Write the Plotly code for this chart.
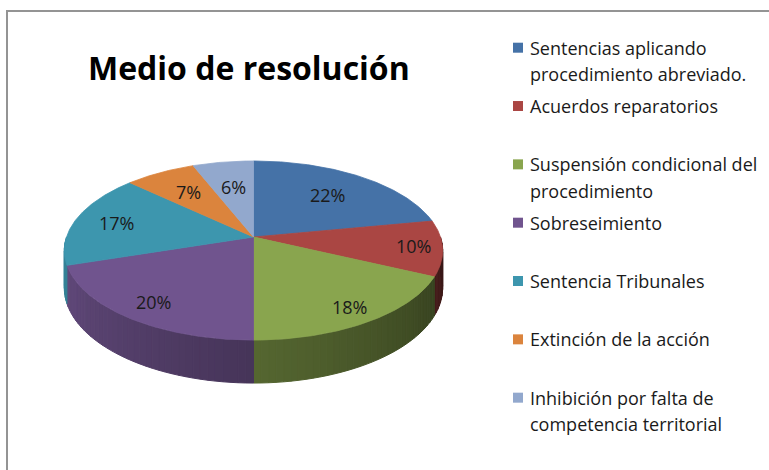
import textwrap
import numpy as np
import plotly.graph_objects as go

# ---------------- data ----------------
title_text = "Medio de resolución"
categories = [
    "Sentencias aplicando procedimiento abreviado.",
    "Acuerdos reparatorios",
    "Suspensión condicional del procedimiento",
    "Sobreseimiento",
    "Sentencia Tribunales",
    "Extinción de la acción",
    "Inhibición por falta de competencia territorial",
]
values = [22, 10, 18, 20, 17, 7, 6]

# ---------------- style ----------------
slice_colors = ["#4572A7", "#AA4643", "#89A54E", "#70548E", "#3D96AE", "#DB843D", "#92A8CD"]
label_radius = [0.67, 0.85, 0.85, 0.82, 0.77, 0.67, 0.63]

W, H = 769, 470
CX, CY = 253.5, 237.0      # pie centre (pixels)
A, B = 187.0, 87.5         # ellipse semi-axes
K = 0.151                  # perspective strength
DEPTH = 36.5               # pie thickness at the centre line
FONT = "Open Sans"


def proj(theta_deg, r=1.0):
    t = np.radians(theta_deg)
    u = r * np.cos(t)
    v = r * np.sin(t)
    s = 1.0 / (1.0 + K * v)
    return CX + A * u * s, CY - B * v * s, s


def hex2rgb(h):
    h = h.lstrip("#")
    return tuple(int(h[i:i + 2], 16) for i in (0, 2, 4))


def shade(h, f):
    r, g, b = hex2rgb(h)
    return "rgb(%d,%d,%d)" % (round(r * f), round(g * f), round(b * f))


total = float(sum(values))
fracs = np.array(values) / total
cum = np.concatenate([[0.0], np.cumsum(fracs)])
start_deg = 90 - 360 * cum[:-1]
end_deg = 90 - 360 * cum[1:]

fig = go.Figure()

# ---- side walls (front, visible part) ----
for i in range(len(values)):
    lo = max(end_deg[i], -180.0)
    hi = min(start_deg[i], 0.0)
    if hi <= lo:
        continue
    m = max(1, int(np.ceil((hi - lo) / 2.0)))
    edges = np.linspace(lo, hi, m + 1)
    for k in range(m):
        ts = np.linspace(edges[k], edges[k + 1], 4)
        xt, yt, st = proj(ts)
        xb, yb = xt[::-1], (yt + DEPTH * st)[::-1]
        mid = (edges[k] + edges[k + 1]) / 2 + 360
        f = 0.92 - (mid - 180) * 0.0033
        col = shade(slice_colors[i], f)
        fig.add_trace(go.Scatter(
            x=np.concatenate([xt, xb, xt[:1]]),
            y=np.concatenate([yt, yb, yt[:1]]),
            mode="lines", fill="toself", fillcolor=col,
            line=dict(color=col, width=1),
            hoverinfo="skip", showlegend=False))

# ---- top faces ----
for i in range(len(values)):
    n = max(8, int(abs(start_deg[i] - end_deg[i]) * 2))
    ts = np.linspace(start_deg[i], end_deg[i], n)
    xt, yt, _ = proj(ts)
    fig.add_trace(go.Scatter(
        x=np.concatenate([[CX], xt, [CX]]),
        y=np.concatenate([[CY], yt, [CY]]),
        mode="lines", fill="toself", fillcolor=slice_colors[i],
        line=dict(color=slice_colors[i], width=0.8),
        hoverinfo="skip", showlegend=False, name=categories[i]))

annotations = []
# ---- data labels ----
for i in range(len(values)):
    mid = (start_deg[i] + end_deg[i]) / 2
    lx, ly, _ = proj(mid, label_radius[i])
    annotations.append(dict(
        x=float(lx), y=float(ly), xref="x", yref="y",
        text="%d%%" % round(values[i] / total * 100),
        showarrow=False, font=dict(family=FONT, size=18, color="#1a1a1a"),
        xanchor="center", yanchor="middle"))

# ---- title ----
annotations.append(dict(
    x=249, y=67, xref="x", yref="y", text="<b>%s</b>" % title_text,
    showarrow=False, font=dict(family=FONT, size=32, color="#000000"),
    xanchor="center", yanchor="middle"))

# ---- legend (manual) ----
LEG_X_MARK, LEG_X_TEXT = 518, 528
LEG_Y0, LEG_STEP, LINE_STEP = 53.3, 58.33, 26.5
mk_x, mk_y = [], []
for i, cat in enumerate(categories):
    base = LEG_Y0 + i * LEG_STEP
    mk_x.append(LEG_X_MARK)
    mk_y.append(base - 5.6)
    for j, line in enumerate(textwrap.wrap(cat, 26)):
        annotations.append(dict(
            x=LEG_X_TEXT, y=base + j * LINE_STEP - 5.5, xref="x", yref="y",
            text=line, showarrow=False,
            font=dict(family=FONT, size=18, color="#1a1a1a"),
            xanchor="left", yanchor="middle"))

fig.add_trace(go.Scatter(
    x=mk_x, y=mk_y, mode="markers",
    marker=dict(symbol="square", size=10, color=slice_colors, line=dict(width=0)),
    hoverinfo="skip", showlegend=False))

fig.update_layout(
    width=W, height=H,
    margin=dict(l=0, r=0, t=0, b=0),
    paper_bgcolor="white", plot_bgcolor="white",
    xaxis=dict(range=[0, W], visible=False, fixedrange=True),
    yaxis=dict(range=[H, 0], visible=False, fixedrange=True),
    annotations=annotations,
    shapes=[dict(type="rect", xref="x", yref="y", x0=7, y0=11, x1=W + 10, y1=H + 10,
                 line=dict(color="#949494", width=2), fillcolor="rgba(0,0,0,0)")],
    showlegend=False,
)

fig.write_html("out.html", config={"displayModeBar": False},
               post_script="document.body.style.margin='0px';")
